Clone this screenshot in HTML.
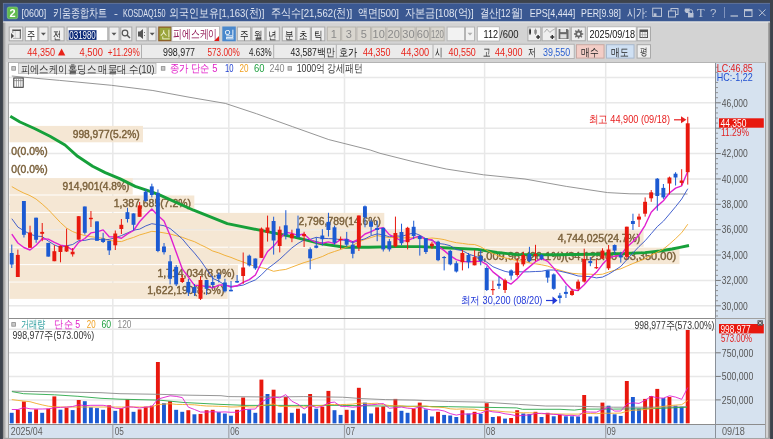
<!DOCTYPE html><html><head><meta charset="utf-8"><style>html,body{margin:0;padding:0;width:773px;height:439px;overflow:hidden;background:#d5d5d5}svg{display:block;will-change:transform;font-family:"Liberation Sans",sans-serif}</style></head><body><svg width="773" height="439" viewBox="0 0 773 439"><rect x="0" y="0" width="773" height="439" fill="#3d434c" />
<rect x="3" y="3" width="767" height="436" fill="#d3d3d3" />
<defs><linearGradient id="lg" x1="0" x2="1" y1="0" y2="0"><stop offset="0" stop-color="#8a8a8a"/><stop offset="1" stop-color="#d3d3d3"/></linearGradient></defs>
<rect x="2.9" y="22" width="3.2" height="417" fill="url(#lg)" />
<rect x="6" y="62" width="2.2" height="376" fill="#dcdcdc" />
<rect x="768.3" y="22" width="1.8" height="417" fill="#8e8e8e" />
<rect x="3" y="437.8" width="767" height="1.2" fill="#a4a4a4" />
<rect x="3" y="3" width="767" height="18.5" fill="#3a5892" />
<line x1="3" y1="3.4" x2="770" y2="3.4" stroke="#6a7a9a" stroke-width="0.8" />
<line x1="3.4" y1="3" x2="3.4" y2="22" stroke="#6a7a9a" stroke-width="0.8" />
<line x1="3" y1="22" x2="770" y2="22" stroke="#e8e8e8" stroke-width="1" />
<rect x="7.3" y="7" width="10.4" height="11.8" rx="1.8" fill="#62bb4e" stroke="#8fd67c" stroke-width="0.6"/>
<text x="12.5" y="16.6" font-size="11" fill="#fff" text-anchor="middle" font-weight="bold" >2</text>
<text x="21.6" y="17" font-size="11.5" fill="#dfe5f1" text-anchor="start" font-weight="normal" textLength="24.6" lengthAdjust="spacingAndGlyphs" >[0600]</text>
<text x="53" y="17" font-size="11.5" fill="#dfe5f1" text-anchor="start" font-weight="normal" textLength="54.3" lengthAdjust="spacingAndGlyphs" >키움종합차트</text>
<text x="114.1" y="17" font-size="11.5" fill="#dfe5f1" text-anchor="start" font-weight="normal" textLength="3.9" lengthAdjust="spacingAndGlyphs" >-</text>
<text x="122.9" y="17" font-size="11.5" fill="#dfe5f1" text-anchor="start" font-weight="normal" textLength="42.6" lengthAdjust="spacingAndGlyphs" >KOSDAQ150</text>
<text x="169.2" y="17" font-size="11.5" fill="#dfe5f1" text-anchor="start" font-weight="normal" textLength="95.1" lengthAdjust="spacingAndGlyphs" >외국인보유[1,163(천)]</text>
<text x="270.8" y="17" font-size="11.5" fill="#dfe5f1" text-anchor="start" font-weight="normal" textLength="81.5" lengthAdjust="spacingAndGlyphs" >주식수[21,562(천)]</text>
<text x="358.2" y="17" font-size="11.5" fill="#dfe5f1" text-anchor="start" font-weight="normal" textLength="40.7" lengthAdjust="spacingAndGlyphs" >액면[500]</text>
<text x="404.9" y="17" font-size="11.5" fill="#dfe5f1" text-anchor="start" font-weight="normal" textLength="68.8" lengthAdjust="spacingAndGlyphs" >자본금[108(억)]</text>
<text x="479.6" y="17" font-size="11.5" fill="#dfe5f1" text-anchor="start" font-weight="normal" textLength="42.7" lengthAdjust="spacingAndGlyphs" >결산[12월]</text>
<text x="529.7" y="17" font-size="11.5" fill="#dfe5f1" text-anchor="start" font-weight="normal" textLength="45.6" lengthAdjust="spacingAndGlyphs" >EPS[4,444]</text>
<text x="581.1" y="17" font-size="11.5" fill="#dfe5f1" text-anchor="start" font-weight="normal" textLength="39.8" lengthAdjust="spacingAndGlyphs" >PER[9.98]</text>
<text x="626.7" y="17" font-size="11.5" fill="#dfe5f1" text-anchor="start" font-weight="normal" textLength="20.4" lengthAdjust="spacingAndGlyphs" >시가:</text>
<g fill="none" stroke="#b9c2d4" stroke-width="1"><rect x="652.7" y="8.2" width="8.8" height="8.2"/><rect x="653.7" y="13.3" width="2.8" height="2.8" fill="#b9c2d4" stroke="none"/><rect x="671" y="8.5" width="7" height="6"/><rect x="668.5" y="11" width="7" height="6" fill="#3a5892"/><line x1="724.5" y1="7" x2="724.5" y2="18" stroke="#7f93bd"/><line x1="730.5" y1="16" x2="738" y2="16" stroke-width="1.3"/><rect x="744.5" y="9.5" width="7.5" height="7"/><line x1="744.5" y1="10.5" x2="752" y2="10.5" stroke-width="1.5"/><path d="M759 9.5 L765.5 16 M765.5 9.5 L759 16"/></g>
<path d="M685 8.5 L690 8.5 L688.5 12 L691 13 L686 13 L684.5 11 Z" fill="#b9c2d4"/><rect x="688" y="13" width="5.5" height="4.5" fill="#b9c2d4"/><path d="M689 13 v-1.5 a1.8 1.8 0 0 1 3.6 0 v1.5" fill="none" stroke="#b9c2d4"/>
<text x="700.9" y="16.6" font-size="12.5" fill="#b9c2d4" text-anchor="middle" font-weight="normal" font-family="Liberation Serif">T</text>
<text x="713.2" y="17" font-size="11.5" fill="#b9c2d4" text-anchor="middle" font-weight="normal" >?</text>
<rect x="9.2" y="27.0" width="13.600000000000001" height="13.799999999999997" fill="#efefef" stroke="#a9a9a9" stroke-width="1" />
<g><rect x="12.4" y="29.5" width="8.4" height="1.5" fill="#505050"/><line x1="20.3" y1="29.5" x2="20.3" y2="38.8" stroke="#555"/><line x1="13" y1="38.4" x2="20.8" y2="38.4" stroke="#999" stroke-width="0.8"/><line x1="12.8" y1="29.5" x2="12.8" y2="33" stroke="#777" stroke-width="0.8"/><line x1="15.3" y1="31" x2="15.3" y2="38" stroke="#ccc" stroke-width="0.8"/><path d="M11.1 32.9 L14 35.9 L11.1 38.8 Z" fill="#444"/></g>
<rect x="25.3" y="27.0" width="12.400000000000002" height="13.799999999999997" fill="#fbfbfb" stroke="#a9a9a9" stroke-width="1" />
<text x="31.5" y="38.6" font-size="11" fill="#1a1a1a" text-anchor="middle" font-weight="normal" textLength="8.2" lengthAdjust="spacingAndGlyphs" >주</text>
<rect x="38.8" y="27.0" width="9.200000000000003" height="13.799999999999997" fill="#efefef" stroke="#a9a9a9" stroke-width="1" />
<path d="M40.9 32.7 L45.9 32.7 L43.4 35.5 Z" fill="#555"/>
<rect x="51.0" y="27.0" width="13.099999999999994" height="13.799999999999997" fill="#efefef" stroke="#a9a9a9" stroke-width="1" />
<text x="57.5" y="38.6" font-size="11" fill="#1a1a1a" text-anchor="middle" font-weight="normal" textLength="8.2" lengthAdjust="spacingAndGlyphs" >전</text>
<rect x="67.1" y="27.0" width="40.7" height="13.799999999999997" fill="#ffffff" stroke="#a9a9a9" stroke-width="1" />
<rect x="68.7" y="30.2" width="27.8" height="9.7" fill="#0c2a78" />
<text x="69.3" y="38.9" font-size="11" fill="#fff" text-anchor="start" font-weight="normal" textLength="26.5" lengthAdjust="spacingAndGlyphs" >031980</text>
<rect x="109.0" y="27.0" width="10.099999999999994" height="13.799999999999997" fill="#efefef" stroke="#a9a9a9" stroke-width="1" />
<path d="M111.5 32.7 L116.5 32.7 L114 35.5 Z" fill="#555"/>
<rect x="120.8" y="27.0" width="11.000000000000014" height="13.799999999999997" fill="#efefef" stroke="#a9a9a9" stroke-width="1" />
<circle cx="125" cy="33" r="2.8" fill="none" stroke="#555" stroke-width="1.2"/><line x1="127" y1="35" x2="130" y2="38" stroke="#555" stroke-width="1.5"/>
<rect x="136.3" y="27.0" width="10.799999999999983" height="13.799999999999997" fill="#efefef" stroke="#a9a9a9" stroke-width="1" />
<path d="M138 31.5 h2 l3 -2.5 v10 l-3 -2.5 h-2 z" fill="#555"/><path d="M144.5 32 v1 M144.5 35 v1" stroke="#777"/>
<rect x="148.3" y="27.0" width="7.699999999999989" height="13.799999999999997" fill="#efefef" stroke="#a9a9a9" stroke-width="1" />
<path d="M149.7 32.7 L154.7 32.7 L152.2 35.5 Z" fill="#555"/>
<rect x="158.2" y="26.5" width="13.6" height="14.8" fill="#8c5a26" />
<rect x="159.4" y="27.7" width="11.2" height="12.4" fill="#9aa53c" />
<text x="165" y="38.2" font-size="10.5" fill="#f4f4d8" text-anchor="middle" font-weight="normal" >신</text>
<rect x="171.8" y="26.5" width="47.6" height="14.8" fill="#ffffff" stroke="#b0b0b0" stroke-width="0.8" />
<text x="173.3" y="38.4" font-size="11.5" fill="#8e1252" text-anchor="start" font-weight="normal" textLength="44" lengthAdjust="spacingAndGlyphs" >피에스케이</text>
<path d="M219 36 L219 41 L214 41 Z" fill="#e01818"/>
<rect x="222.3" y="26.5" width="13.5" height="14.8" fill="#4a88cc" />
<text x="229" y="38.3" font-size="11" fill="#fff" text-anchor="middle" font-weight="normal" >일</text>
<rect x="237.3" y="27.0" width="13.399999999999977" height="13.799999999999997" fill="#efefef" stroke="#a9a9a9" stroke-width="1" />
<text x="244.0" y="38.6" font-size="11" fill="#1a1a1a" text-anchor="middle" font-weight="normal" textLength="8.6" lengthAdjust="spacingAndGlyphs" >주</text>
<rect x="251.9" y="27.0" width="12.999999999999972" height="13.799999999999997" fill="#efefef" stroke="#a9a9a9" stroke-width="1" />
<text x="258.4" y="38.6" font-size="11" fill="#1a1a1a" text-anchor="middle" font-weight="normal" textLength="8.6" lengthAdjust="spacingAndGlyphs" >월</text>
<rect x="266.1" y="27.0" width="13.199999999999989" height="13.799999999999997" fill="#efefef" stroke="#a9a9a9" stroke-width="1" />
<text x="272.70000000000005" y="38.6" font-size="11" fill="#1a1a1a" text-anchor="middle" font-weight="normal" textLength="8.6" lengthAdjust="spacingAndGlyphs" >년</text>
<rect x="282.3" y="27.0" width="13.399999999999977" height="13.799999999999997" fill="#efefef" stroke="#a9a9a9" stroke-width="1" />
<text x="289.0" y="38.6" font-size="11" fill="#1a1a1a" text-anchor="middle" font-weight="normal" textLength="8.6" lengthAdjust="spacingAndGlyphs" >분</text>
<rect x="296.9" y="27.0" width="13.400000000000034" height="13.799999999999997" fill="#efefef" stroke="#a9a9a9" stroke-width="1" />
<text x="303.6" y="38.6" font-size="11" fill="#1a1a1a" text-anchor="middle" font-weight="normal" textLength="8.6" lengthAdjust="spacingAndGlyphs" >초</text>
<rect x="311.5" y="27.0" width="13.300000000000011" height="13.799999999999997" fill="#efefef" stroke="#a9a9a9" stroke-width="1" />
<text x="318.15" y="38.6" font-size="11" fill="#1a1a1a" text-anchor="middle" font-weight="normal" textLength="8.6" lengthAdjust="spacingAndGlyphs" >틱</text>
<rect x="327.3" y="27.0" width="13.199999999999989" height="13.799999999999997" fill="#d9d6cf" stroke="#b8b5ae" stroke-width="1" />
<text x="333.9" y="38.2" font-size="11" fill="#8a8a8a" text-anchor="middle" font-weight="normal" >1</text>
<rect x="341.7" y="27.0" width="14.0" height="13.799999999999997" fill="#d9d6cf" stroke="#b8b5ae" stroke-width="1" />
<text x="348.7" y="38.2" font-size="11" fill="#8a8a8a" text-anchor="middle" font-weight="normal" >3</text>
<rect x="356.9" y="27.0" width="13.600000000000023" height="13.799999999999997" fill="#d9d6cf" stroke="#b8b5ae" stroke-width="1" />
<text x="363.7" y="38.2" font-size="11" fill="#8a8a8a" text-anchor="middle" font-weight="normal" >5</text>
<rect x="371.7" y="27.0" width="14.0" height="13.799999999999997" fill="#d9d6cf" stroke="#b8b5ae" stroke-width="1" />
<text x="378.7" y="38.2" font-size="11" fill="#8a8a8a" text-anchor="middle" font-weight="normal" >10</text>
<rect x="386.9" y="27.0" width="13.600000000000023" height="13.799999999999997" fill="#d9d6cf" stroke="#b8b5ae" stroke-width="1" />
<text x="393.7" y="38.2" font-size="11" fill="#8a8a8a" text-anchor="middle" font-weight="normal" >20</text>
<rect x="401.7" y="27.0" width="13.400000000000034" height="13.799999999999997" fill="#d9d6cf" stroke="#b8b5ae" stroke-width="1" />
<text x="408.4" y="38.2" font-size="11" fill="#8a8a8a" text-anchor="middle" font-weight="normal" >30</text>
<rect x="416.3" y="27.0" width="13.199999999999989" height="13.799999999999997" fill="#d9d6cf" stroke="#b8b5ae" stroke-width="1" />
<text x="422.9" y="38.2" font-size="11" fill="#8a8a8a" text-anchor="middle" font-weight="normal" >60</text>
<rect x="430.7" y="27.0" width="13.400000000000034" height="13.799999999999997" fill="#d9d6cf" stroke="#b8b5ae" stroke-width="1" />
<text x="437.4" y="38.2" font-size="11" fill="#8a8a8a" text-anchor="middle" font-weight="normal" textLength="13" lengthAdjust="spacingAndGlyphs" >120</text>
<rect x="447.1" y="27.0" width="17.399999999999977" height="13.799999999999997" fill="#f2f2f2" stroke="#b5b5b5" stroke-width="1" />
<rect x="465.5" y="27.0" width="9" height="13.799999999999997" fill="#f2f2f2" stroke="#b5b5b5" stroke-width="1" />
<path d="M467.5 32.7 L472.5 32.7 L470 35.5 Z" fill="#b0b0b0"/>
<rect x="477.3" y="26.8" width="22" height="14.2" fill="#fff" stroke="#b0b0b0" stroke-width="0.8" />
<text x="498" y="38.3" font-size="11.5" fill="#111" text-anchor="end" font-weight="normal" textLength="14.5" lengthAdjust="spacingAndGlyphs" >112</text>
<text x="500" y="38.3" font-size="11.5" fill="#222" text-anchor="start" font-weight="normal" textLength="18.5" lengthAdjust="spacingAndGlyphs" >/600</text>
<rect x="527.9" y="27.0" width="12.899999999999977" height="13.799999999999997" fill="#efefef" stroke="#a9a9a9" stroke-width="1" />
<rect x="542.1" y="27.0" width="13.199999999999932" height="13.799999999999997" fill="#efefef" stroke="#a9a9a9" stroke-width="1" />
<rect x="556.6" y="27.0" width="13.399999999999977" height="13.799999999999997" fill="#efefef" stroke="#a9a9a9" stroke-width="1" />
<rect x="571.3" y="27.0" width="14.0" height="13.799999999999997" fill="#efefef" stroke="#a9a9a9" stroke-width="1" />
<g><line x1="530" y1="28.4" x2="530" y2="35" stroke="#333" stroke-width="0.8"/><rect x="529.2" y="29.5" width="1.8" height="4.2" fill="#333"/><line x1="535.5" y1="28.6" x2="535.5" y2="35" stroke="#888" stroke-width="0.8"/><rect x="534.3" y="29.8" width="2.5" height="3.9" fill="#888"/><path d="M536.2 37 h3.8 M538.1 35.1 v3.8" stroke="#333" stroke-width="1.4"/><path d="M544.3 32.4 L546.9 29.1 L549.8 32.4 L552.3 30.3 L554.8 29" fill="none" stroke="#999" stroke-width="0.8"/><path d="M550.3 37 h4 M552.3 35 v4" stroke="#333" stroke-width="1.4"/><path d="M558.6 28.9 h8.8 l1.2 1.2 v8.8 h-10 z" fill="#6a6a6a"/><rect x="560.4" y="28.9" width="5.6" height="3.2" fill="#e8e8e8"/><rect x="560.3" y="34.2" width="6.2" height="4.2" fill="#e0e0e0"/><path d="M581.92 33.16 L583.24 33.15 L583.24 34.65 L581.92 34.64 L581.47 35.72 L582.41 36.65 L581.35 37.71 L580.42 36.77 L579.34 37.22 L579.35 38.54 L577.85 38.54 L577.86 37.22 L576.78 36.77 L575.85 37.71 L574.79 36.65 L575.73 35.72 L575.28 34.64 L573.96 34.65 L573.96 33.15 L575.28 33.16 L575.73 32.08 L574.79 31.15 L575.85 30.09 L576.78 31.03 L577.86 30.58 L577.85 29.26 L579.35 29.26 L579.34 30.58 L580.42 31.03 L581.35 30.09 L582.41 31.15 L581.47 32.08 Z" fill="#6a6a6a"/><circle cx="578.6" cy="33.9" r="1.5" fill="#efefef"/></g>
<rect x="587.6" y="26.8" width="48.6" height="14.2" fill="#fff" stroke="#b0b0b0" stroke-width="0.8" />
<text x="589.5" y="38.4" font-size="11.5" fill="#111" text-anchor="start" font-weight="normal" textLength="45.5" lengthAdjust="spacingAndGlyphs" >2025/09/18</text>
<rect x="637.1" y="27.0" width="13.399999999999977" height="13.799999999999997" fill="#efefef" stroke="#a9a9a9" stroke-width="1" />
<rect x="640" y="30" width="7.5" height="7.5" fill="none" stroke="#555"/><rect x="640" y="30" width="7.5" height="2" fill="#555"/><path d="M642.5 32 v5.5 M645 32 v5.5 M640 34.7 h7.5" stroke="#999" stroke-width="0.6"/>
<rect x="8.7" y="44.2" width="565.5" height="14.4" fill="#ebebeb" stroke="#a8a8a8" stroke-width="0.8" />
<line x1="141.5" y1="44.6" x2="141.5" y2="58.2" stroke="#b0b0b0" stroke-width="1" />
<line x1="273.7" y1="44.6" x2="273.7" y2="58.2" stroke="#b0b0b0" stroke-width="1" />
<line x1="336.3" y1="44.6" x2="336.3" y2="58.2" stroke="#b0b0b0" stroke-width="1" />
<line x1="433" y1="44.6" x2="433" y2="58.2" stroke="#b0b0b0" stroke-width="1" />
<text x="27.3" y="55.7" font-size="10.5" fill="#e8231a" text-anchor="start" font-weight="normal" textLength="27.8" lengthAdjust="spacingAndGlyphs" >44,350</text>
<path d="M57.9 55.6 L61.6 48.4 L65.3 55.6 Z" fill="#e8231a"/>
<text x="79.6" y="55.7" font-size="10.5" fill="#e8231a" text-anchor="start" font-weight="normal" textLength="23.3" lengthAdjust="spacingAndGlyphs" >4,500</text>
<text x="107.7" y="55.7" font-size="10.5" fill="#e8231a" text-anchor="start" font-weight="normal" textLength="32" lengthAdjust="spacingAndGlyphs" >+11.29%</text>
<text x="163" y="55.7" font-size="10.5" fill="#222" text-anchor="start" font-weight="normal" textLength="32" lengthAdjust="spacingAndGlyphs" >998,977</text>
<text x="207.5" y="55.7" font-size="10.5" fill="#e8231a" text-anchor="start" font-weight="normal" textLength="32.3" lengthAdjust="spacingAndGlyphs" >573.00%</text>
<text x="249" y="55.7" font-size="10.5" fill="#222" text-anchor="start" font-weight="normal" textLength="22.7" lengthAdjust="spacingAndGlyphs" >4.63%</text>
<text x="290.5" y="55.7" font-size="10.5" fill="#222" text-anchor="start" font-weight="normal" textLength="44.3" lengthAdjust="spacingAndGlyphs" >43,587백만</text>
<text x="338.7" y="55.7" font-size="10.5" fill="#111" text-anchor="start" font-weight="normal" textLength="18.5" lengthAdjust="spacingAndGlyphs" >호가</text>
<text x="363" y="55.7" font-size="10.5" fill="#e8231a" text-anchor="start" font-weight="normal" textLength="27.4" lengthAdjust="spacingAndGlyphs" >44,350</text>
<text x="401" y="55.7" font-size="10.5" fill="#e8231a" text-anchor="start" font-weight="normal" textLength="28.2" lengthAdjust="spacingAndGlyphs" >44,300</text>
<text x="435" y="55.7" font-size="10.5" fill="#111" text-anchor="start" font-weight="normal" textLength="7.5" lengthAdjust="spacingAndGlyphs" >시</text>
<text x="448.6" y="55.7" font-size="10.5" fill="#e8231a" text-anchor="start" font-weight="normal" textLength="27.2" lengthAdjust="spacingAndGlyphs" >40,550</text>
<text x="482.6" y="55.7" font-size="10.5" fill="#111" text-anchor="start" font-weight="normal" textLength="7.5" lengthAdjust="spacingAndGlyphs" >고</text>
<text x="495" y="55.7" font-size="10.5" fill="#e8231a" text-anchor="start" font-weight="normal" textLength="27.6" lengthAdjust="spacingAndGlyphs" >44,900</text>
<text x="528.4" y="55.7" font-size="10.5" fill="#111" text-anchor="start" font-weight="normal" textLength="7.8" lengthAdjust="spacingAndGlyphs" >저</text>
<text x="543" y="55.7" font-size="10.5" fill="#2a5fd0" text-anchor="start" font-weight="normal" textLength="27.2" lengthAdjust="spacingAndGlyphs" >39,550</text>
<rect x="576.5" y="44.7" width="27.5" height="13.399999999999999" fill="#f3cdc6" stroke="#c8a8a2" stroke-width="1" />
<text x="590.2" y="55.5" font-size="11" fill="#222" text-anchor="middle" font-weight="normal" textLength="17.5" lengthAdjust="spacingAndGlyphs" >매수</text>
<rect x="606.5" y="44.7" width="27.5" height="13.399999999999999" fill="#cfe0f3" stroke="#a8b8cc" stroke-width="1" />
<text x="620.2" y="55.5" font-size="11" fill="#222" text-anchor="middle" font-weight="normal" textLength="17.5" lengthAdjust="spacingAndGlyphs" >매도</text>
<rect x="637.1" y="44.7" width="13.399999999999977" height="13.399999999999999" fill="#efefef" stroke="#a9a9a9" stroke-width="1" />
<text x="643.8" y="55.3" font-size="10" fill="#222" text-anchor="middle" font-weight="normal" textLength="7.5" lengthAdjust="spacingAndGlyphs" >평</text>
<rect x="8.5" y="62" width="707.0" height="256.5" fill="#ffffff" />
<rect x="715.5" y="62" width="50" height="362" fill="#d6e2ef" />
<rect x="8.5" y="424" width="756.5" height="14" fill="#d6e2ef" />
<rect x="8.5" y="318.5" width="707.0" height="105.5" fill="#ffffff" />
<line x1="9" y1="305.808" x2="715.5" y2="305.808" stroke="#e8e8e8" stroke-width="1.5" />
<line x1="9" y1="280.432" x2="715.5" y2="280.432" stroke="#e8e8e8" stroke-width="1.5" />
<line x1="9" y1="255.05599999999998" x2="715.5" y2="255.05599999999998" stroke="#e8e8e8" stroke-width="1.5" />
<line x1="9" y1="229.68" x2="715.5" y2="229.68" stroke="#e8e8e8" stroke-width="1.5" />
<line x1="9" y1="204.30399999999997" x2="715.5" y2="204.30399999999997" stroke="#e8e8e8" stroke-width="1.5" />
<line x1="9" y1="178.928" x2="715.5" y2="178.928" stroke="#e8e8e8" stroke-width="1.5" />
<line x1="9" y1="153.552" x2="715.5" y2="153.552" stroke="#e8e8e8" stroke-width="1.5" />
<line x1="9" y1="128.176" x2="715.5" y2="128.176" stroke="#e8e8e8" stroke-width="1.5" />
<line x1="9" y1="102.8" x2="715.5" y2="102.8" stroke="#e8e8e8" stroke-width="1.5" />
<line x1="9" y1="77.424" x2="715.5" y2="77.424" stroke="#e8e8e8" stroke-width="1.5" />
<line x1="112.8" y1="62" x2="112.8" y2="424" stroke="#e8e8e8" stroke-width="1.5" />
<line x1="228.8" y1="62" x2="228.8" y2="424" stroke="#e8e8e8" stroke-width="1.5" />
<line x1="344.5" y1="62" x2="344.5" y2="424" stroke="#e8e8e8" stroke-width="1.5" />
<line x1="484.6" y1="62" x2="484.6" y2="424" stroke="#e8e8e8" stroke-width="1.5" />
<line x1="605.7" y1="62" x2="605.7" y2="424" stroke="#e8e8e8" stroke-width="1.5" />
<rect x="9.5" y="125.9" width="133.484" height="16.4" fill="#f5e7d4" />
<rect x="9.5" y="178.1" width="123.21600000000001" height="16.4" fill="#f5e7d4" />
<rect x="9.5" y="195.5" width="184.824" height="16.4" fill="#f5e7d4" />
<rect x="9.5" y="212.9" width="374.78200000000004" height="16.4" fill="#f5e7d4" />
<rect x="9.5" y="230.3" width="634.049" height="16.4" fill="#f5e7d4" />
<rect x="9.5" y="247.7" width="669.9870000000001" height="16.4" fill="#f5e7d4" />
<rect x="9.5" y="265.1" width="228.46300000000002" height="16.4" fill="#f5e7d4" />
<rect x="9.5" y="282.5" width="218.19500000000002" height="16.4" fill="#f5e7d4" />
<line x1="9" y1="329.2" x2="715.5" y2="329.2" stroke="#e8e8e8" stroke-width="1.5" />
<line x1="9" y1="352.8" x2="715.5" y2="352.8" stroke="#e8e8e8" stroke-width="1.5" />
<line x1="9" y1="376.4" x2="715.5" y2="376.4" stroke="#e8e8e8" stroke-width="1.5" />
<line x1="9" y1="399.9" x2="715.5" y2="399.9" stroke="#e8e8e8" stroke-width="1.5" />
<text x="139.684" y="137.8" font-size="10.5" fill="#7a603a" text-anchor="end" font-weight="normal" textLength="66.95" lengthAdjust="spacingAndGlyphs" stroke="#7a603a" stroke-width="0.4">998,977(5.2%)</text>
<text x="11.3" y="155.20000000000002" font-size="10.5" fill="#7a603a" text-anchor="start" font-weight="normal" textLength="36.4" lengthAdjust="spacingAndGlyphs" stroke="#7a603a" stroke-width="0.4">0(0.0%)</text>
<text x="11.3" y="172.6" font-size="10.5" fill="#7a603a" text-anchor="start" font-weight="normal" textLength="36.4" lengthAdjust="spacingAndGlyphs" stroke="#7a603a" stroke-width="0.4">0(0.0%)</text>
<text x="129.416" y="190.0" font-size="10.5" fill="#7a603a" text-anchor="end" font-weight="normal" textLength="66.95" lengthAdjust="spacingAndGlyphs" stroke="#7a603a" stroke-width="0.4">914,901(4.8%)</text>
<text x="191.024" y="207.4" font-size="10.5" fill="#7a603a" text-anchor="end" font-weight="normal" textLength="77.25" lengthAdjust="spacingAndGlyphs" stroke="#7a603a" stroke-width="0.4">1,387,685(7.2%)</text>
<text x="380.982" y="224.8" font-size="10.5" fill="#7a603a" text-anchor="end" font-weight="normal" textLength="82.4" lengthAdjust="spacingAndGlyphs" stroke="#7a603a" stroke-width="0.4">2,796,789(14.6%)</text>
<text x="640.249" y="242.20000000000002" font-size="10.5" fill="#7a603a" text-anchor="end" font-weight="normal" textLength="82.4" lengthAdjust="spacingAndGlyphs" stroke="#7a603a" stroke-width="0.4">4,744,025(24.7%)</text>
<text x="676.1870000000001" y="259.59999999999997" font-size="10.5" fill="#7a603a" text-anchor="end" font-weight="normal" textLength="199" lengthAdjust="spacingAndGlyphs" stroke="#7a603a" stroke-width="0.4">5,009,961(26.1%)(34,125.00~33,350.00)</text>
<text x="234.663" y="277.0" font-size="10.5" fill="#7a603a" text-anchor="end" font-weight="normal" textLength="77.25" lengthAdjust="spacingAndGlyphs" stroke="#7a603a" stroke-width="0.4">1,714,034(8.9%)</text>
<text x="224.395" y="294.4" font-size="10.5" fill="#7a603a" text-anchor="end" font-weight="normal" textLength="77.25" lengthAdjust="spacingAndGlyphs" stroke="#7a603a" stroke-width="0.4">1,622,190(8.5%)</text>
<polyline points="11.8,76.0 25.0,77.3 59.7,80.4 111.5,85.3 152.9,90.5 189.0,97.2 225.3,103.4 256.4,113.7 292.6,126.7 328.8,139.6 370.2,150.0 380.0,153.3 413.0,161.6 446.2,169.0 483.5,174.8 524.9,179.0 566.3,186.4 607.6,192.6 630.0,193.8 660.0,194.0 687.5,194.0" fill="none" stroke="#8a8a8a" stroke-width="0.9" stroke-linejoin="round" />
<polyline points="10.3,116.3 20.0,122.0 35.0,128.8 50.0,136.3 65.0,145.0 77.6,156.3 92.6,166.3 105.2,172.6 120.2,178.9 135.2,186.4 150.2,191.4 160.0,195.1 193.6,210.2 227.3,223.7 260.9,230.4 294.5,237.1 321.5,243.9 345.0,247.2 368.5,247.2 395.5,246.6 420.0,246.6 438.8,247.5 477.6,249.4 497.0,252.5 516.4,254.5 555.2,254.8 594.0,254.2 625.0,253.5 645.0,252.6 660.0,251.0 672.0,249.0 680.0,247.3 689.0,245.5" fill="none" stroke="#16a03a" stroke-width="2.9" stroke-linejoin="round" />
<polyline points="11.8,186.6 17.9,190.1 23.9,193.1 30.0,195.6 36.1,199.1 42.2,204.1 48.3,209.6 54.4,216.1 60.5,222.6 66.6,228.1 72.7,231.6 78.8,233.9 84.8,235.6 90.9,236.6 97.0,237.6 103.1,238.3 109.2,240.3 115.3,241.3 121.4,241.6 127.5,239.3 133.6,237.4 139.7,234.9 145.8,233.2 151.8,231.3 157.9,231.9 164.0,232.9 170.1,234.0 176.2,235.7 182.3,237.3 188.4,239.6 194.5,241.7 200.6,244.8 206.7,247.7 212.7,251.0 218.8,252.9 224.9,255.4 231.0,257.4 237.1,259.9 243.2,262.0 249.3,264.3 255.4,266.5 261.5,267.7 267.6,269.0 273.6,271.3 279.7,270.2 285.8,269.4 291.9,267.1 298.0,264.8 304.1,262.6 310.2,260.8 316.3,258.6 322.4,256.5 328.4,253.6 334.5,251.5 340.6,249.5 346.7,247.2 352.8,245.3 358.9,241.9 365.0,239.4 371.1,237.5 377.2,235.6 383.3,236.6 389.3,237.7 395.4,237.3 401.5,238.0 407.6,237.7 413.7,237.8 419.8,237.8 425.9,238.7 432.0,238.0 438.1,238.6 444.2,239.6 450.2,241.3 456.3,242.7 462.4,243.4 468.5,244.3 474.6,244.5 480.7,246.8 486.8,250.4 492.9,253.5 499.0,256.3 505.1,257.8 511.1,259.2 517.2,260.6 523.3,261.2 529.4,262.9 535.5,263.8 541.6,264.8 547.7,266.1 553.8,268.3 559.9,270.2 566.0,272.0 572.0,273.3 578.1,273.8 584.2,274.1 590.3,274.2 596.4,274.7 602.5,274.2 608.6,272.1 614.7,270.2 620.8,268.8 626.9,266.1 632.9,263.5 639.0,261.2 645.1,258.6 651.2,255.1 657.3,252.2 663.4,249.1 669.5,244.1 675.6,238.6 681.7,232.7 687.8,224.2" fill="none" stroke="#f0aa2a" stroke-width="0.9" stroke-linejoin="round" />
<polyline points="11.8,218.7 17.9,227.1 23.9,230.7 30.0,234.2 36.1,236.1 42.2,236.5 48.3,241.1 54.4,244.9 60.5,247.5 66.6,245.8 72.7,244.5 78.8,240.6 84.8,240.4 90.9,239.0 97.0,239.1 103.1,240.1 109.2,239.4 115.3,237.7 121.4,235.6 127.5,232.9 133.6,230.2 139.7,229.1 145.8,225.9 151.8,223.7 157.9,224.7 164.0,225.7 170.1,228.5 176.2,233.6 182.3,238.9 188.4,246.3 194.5,253.1 200.6,260.6 206.7,269.4 212.7,278.4 218.8,281.1 224.9,285.1 231.0,286.3 237.1,286.1 243.2,285.1 249.3,282.4 255.4,279.9 261.5,274.8 267.6,268.6 273.6,264.2 279.7,259.3 285.8,253.6 291.9,247.9 298.0,243.4 304.1,240.0 310.2,239.3 316.3,237.3 322.4,238.3 328.4,238.6 334.5,238.8 340.6,239.7 346.7,240.7 352.8,242.7 358.9,240.5 365.0,238.8 371.1,235.7 377.2,233.9 383.3,234.9 389.3,236.8 395.4,235.9 401.5,236.3 407.6,234.6 413.7,232.8 419.8,235.2 425.9,238.7 432.0,240.4 438.1,243.4 444.2,244.2 450.2,245.7 456.3,249.6 462.4,250.6 468.5,254.0 474.6,256.1 480.7,258.3 486.8,262.1 492.9,266.7 499.0,269.2 505.1,271.4 511.1,272.6 517.2,271.7 523.3,271.9 529.4,271.8 535.5,271.5 541.6,271.3 547.7,270.0 553.8,270.0 559.9,271.2 566.0,272.6 572.0,274.1 578.1,276.0 584.2,276.4 590.3,276.6 596.4,277.9 602.5,277.1 608.6,274.2 614.7,270.4 620.8,266.4 626.9,259.6 632.9,253.0 639.0,246.5 645.1,240.8 651.2,233.7 657.3,226.6 663.4,221.2 669.5,214.0 675.6,206.7 681.7,199.0 687.8,188.7" fill="none" stroke="#3050c8" stroke-width="0.9" stroke-linejoin="round" />
<polyline points="11.8,234.2 17.9,243.0 23.9,247.5 30.0,250.0 36.1,245.3 42.2,238.8 48.3,239.1 54.4,242.4 60.5,245.1 66.6,246.3 72.7,250.2 78.8,242.1 84.8,238.5 90.9,232.9 97.0,231.9 103.1,229.9 109.2,236.8 115.3,236.9 121.4,238.3 127.5,233.9 133.6,230.5 139.7,221.5 145.8,215.0 151.8,209.0 157.9,215.4 164.0,220.9 170.1,235.6 176.2,252.3 182.3,268.9 188.4,277.2 194.5,285.3 200.6,285.6 206.7,286.5 212.7,287.9 218.8,285.1 224.9,284.8 231.0,287.0 237.1,285.8 243.2,282.3 249.3,279.6 255.4,275.0 261.5,262.5 267.6,251.5 273.6,246.1 279.7,238.9 285.8,232.3 291.9,233.4 298.0,235.3 304.1,234.0 310.2,239.7 316.3,242.3 322.4,243.3 328.4,241.9 334.5,243.6 340.6,239.7 346.7,239.1 352.8,242.0 358.9,239.1 365.0,234.0 371.1,231.6 377.2,228.7 383.3,227.8 389.3,234.6 395.4,237.7 401.5,241.0 407.6,240.6 413.7,237.9 419.8,235.8 425.9,239.6 432.0,239.7 438.1,246.2 444.2,250.6 450.2,255.7 456.3,259.6 462.4,261.4 468.5,261.8 474.6,261.6 480.7,261.0 486.8,264.7 492.9,271.9 499.0,276.6 505.1,281.3 511.1,284.1 517.2,278.7 523.3,271.9 529.4,266.9 535.5,261.7 541.6,258.4 547.7,261.4 553.8,268.1 559.9,275.5 566.0,283.5 572.0,289.8 578.1,290.6 584.2,284.7 590.3,277.7 596.4,272.3 602.5,264.3 608.6,257.9 614.7,256.2 620.8,255.1 626.9,247.0 632.9,241.7 639.0,235.1 645.1,225.3 651.2,212.3 657.3,206.1 663.4,200.8 669.5,193.0 675.6,188.1 681.7,185.8 687.8,171.2" fill="none" stroke="#e020d0" stroke-width="1.4" stroke-linejoin="round" />
<rect x="11.27" y="244.6" width="1" height="23.400000000000006" fill="#1c5ad2" />
<rect x="9.77" y="253" width="3.9" height="11.5" fill="#1c5ad2" />
<rect x="17.36" y="249.6" width="1" height="27.400000000000006" fill="#e8180e" />
<rect x="15.86" y="254.9" width="3.9" height="22.099999999999994" fill="#e8180e" />
<rect x="23.45" y="201" width="1" height="36.5" fill="#1c5ad2" />
<rect x="21.95" y="201" width="3.9" height="33.80000000000001" fill="#1c5ad2" />
<rect x="29.54" y="225.7" width="1" height="22.100000000000023" fill="#e8180e" />
<rect x="28.04" y="232.5" width="3.9" height="15.300000000000011" fill="#e8180e" />
<rect x="35.629999999999995" y="217.7" width="1" height="25.100000000000023" fill="#1c5ad2" />
<rect x="34.129999999999995" y="217.7" width="3.9" height="22.100000000000023" fill="#1c5ad2" />
<rect x="41.72" y="223" width="1" height="18.19999999999999" fill="#e8180e" />
<rect x="40.22" y="231.9" width="3.9" height="1.9000000000000057" fill="#e8180e" />
<rect x="47.81" y="242.9" width="1" height="13.700000000000017" fill="#1c5ad2" />
<rect x="46.31" y="242.9" width="3.9" height="13.700000000000017" fill="#1c5ad2" />
<rect x="53.89999999999999" y="245.2" width="1" height="16.0" fill="#e8180e" />
<rect x="52.39999999999999" y="251.2" width="3.9" height="10.0" fill="#e8180e" />
<rect x="59.989999999999995" y="245.5" width="1" height="16.80000000000001" fill="#e8180e" />
<rect x="58.489999999999995" y="245.8" width="3.9" height="6.199999999999989" fill="#e8180e" />
<rect x="66.08" y="228.7" width="1" height="23.30000000000001" fill="#e8180e" />
<rect x="64.58" y="245.8" width="3.9" height="5.699999999999989" fill="#e8180e" />
<rect x="72.17" y="248" width="1" height="8.600000000000023" fill="#e8180e" />
<rect x="70.67" y="251.7" width="3.9" height="2.6000000000000227" fill="#e8180e" />
<rect x="78.25999999999999" y="216" width="1" height="23.599999999999994" fill="#e8180e" />
<rect x="76.75999999999999" y="216.2" width="3.9" height="23.400000000000006" fill="#e8180e" />
<rect x="84.35" y="206.5" width="1" height="28.099999999999994" fill="#1c5ad2" />
<rect x="82.85" y="206.5" width="3.9" height="26.30000000000001" fill="#1c5ad2" />
<rect x="90.44" y="211" width="1" height="16" fill="#e8180e" />
<rect x="88.94" y="217.8" width="3.9" height="1.3999999999999773" fill="#e8180e" />
<rect x="96.52999999999999" y="221.4" width="1" height="19.400000000000006" fill="#1c5ad2" />
<rect x="95.02999999999999" y="221.4" width="3.9" height="19.400000000000006" fill="#1c5ad2" />
<rect x="102.61999999999999" y="232.8" width="1" height="10.199999999999989" fill="#1c5ad2" />
<rect x="101.11999999999999" y="238.5" width="3.9" height="3.5" fill="#1c5ad2" />
<rect x="108.71" y="240.8" width="1" height="14.199999999999989" fill="#1c5ad2" />
<rect x="107.21" y="240.8" width="3.9" height="9.599999999999994" fill="#1c5ad2" />
<rect x="114.8" y="230.5" width="1" height="19.5" fill="#e8180e" />
<rect x="113.3" y="233.5" width="3.9" height="11.800000000000011" fill="#e8180e" />
<rect x="120.89" y="219" width="1" height="15" fill="#e8180e" />
<rect x="119.39" y="224.8" width="3.9" height="4.199999999999989" fill="#e8180e" />
<rect x="126.97999999999999" y="207.7" width="1" height="14.800000000000011" fill="#1c5ad2" />
<rect x="125.47999999999999" y="212.2" width="3.9" height="6.800000000000011" fill="#1c5ad2" />
<rect x="133.07" y="213.4" width="1" height="17.099999999999994" fill="#1c5ad2" />
<rect x="131.57" y="213.4" width="3.9" height="11.400000000000006" fill="#1c5ad2" />
<rect x="139.16" y="202" width="1" height="14.800000000000011" fill="#e8180e" />
<rect x="137.66" y="205.4" width="3.9" height="11.400000000000006" fill="#e8180e" />
<rect x="145.25" y="189" width="1" height="13" fill="#1c5ad2" />
<rect x="143.75" y="191.7" width="3.9" height="9.100000000000023" fill="#1c5ad2" />
<rect x="151.34" y="183.7" width="1" height="13.700000000000017" fill="#1c5ad2" />
<rect x="149.84" y="186.4" width="3.9" height="8.599999999999994" fill="#1c5ad2" />
<rect x="157.43" y="189.4" width="1" height="62.79999999999998" fill="#1c5ad2" />
<rect x="155.93" y="192.8" width="3.9" height="58.19999999999999" fill="#1c5ad2" />
<rect x="163.52" y="243" width="1" height="11.5" fill="#1c5ad2" />
<rect x="162.02" y="246.5" width="3.9" height="5.699999999999989" fill="#1c5ad2" />
<rect x="169.61" y="255" width="1" height="29.399999999999977" fill="#1c5ad2" />
<rect x="168.11" y="261.3" width="3.9" height="17.5" fill="#1c5ad2" />
<rect x="175.70000000000002" y="265" width="1" height="21" fill="#1c5ad2" />
<rect x="174.20000000000002" y="266.9" width="3.9" height="17.5" fill="#1c5ad2" />
<rect x="181.79" y="275" width="1" height="8" fill="#e8180e" />
<rect x="180.29" y="278" width="3.9" height="4" fill="#e8180e" />
<rect x="187.88" y="278.8" width="1" height="17.19999999999999" fill="#1c5ad2" />
<rect x="186.38" y="281.9" width="3.9" height="10.600000000000023" fill="#1c5ad2" />
<rect x="193.97" y="284" width="1" height="12" fill="#1c5ad2" />
<rect x="192.47" y="287" width="3.9" height="6" fill="#1c5ad2" />
<rect x="200.06" y="276" width="1" height="24" fill="#e8180e" />
<rect x="198.56" y="280" width="3.9" height="18.80000000000001" fill="#e8180e" />
<rect x="206.15" y="280" width="1" height="15" fill="#1c5ad2" />
<rect x="204.65" y="280" width="3.9" height="8.800000000000011" fill="#1c5ad2" />
<rect x="212.24" y="276" width="1" height="11.5" fill="#1c5ad2" />
<rect x="210.74" y="282" width="3.9" height="3" fill="#1c5ad2" />
<rect x="218.33" y="272.5" width="1" height="10.0" fill="#1c5ad2" />
<rect x="216.83" y="274.4" width="3.9" height="4.400000000000034" fill="#1c5ad2" />
<rect x="224.42000000000002" y="278.8" width="1" height="13.699999999999989" fill="#1c5ad2" />
<rect x="222.92000000000002" y="282.5" width="3.9" height="8.800000000000011" fill="#1c5ad2" />
<rect x="230.51000000000002" y="281" width="1" height="10.300000000000011" fill="#1c5ad2" />
<rect x="229.01000000000002" y="289.8" width="3.9" height="1.5" fill="#1c5ad2" />
<rect x="236.6" y="275" width="1" height="8" fill="#1c5ad2" />
<rect x="235.1" y="281" width="3.9" height="1.5" fill="#1c5ad2" />
<rect x="242.69" y="252.5" width="1" height="31.30000000000001" fill="#e8180e" />
<rect x="241.19" y="267.5" width="3.9" height="8.5" fill="#e8180e" />
<rect x="248.78" y="254.6" width="1" height="11.900000000000006" fill="#1c5ad2" />
<rect x="247.28" y="255.7" width="3.9" height="9.699999999999989" fill="#1c5ad2" />
<rect x="254.87" y="258.5" width="1" height="11.300000000000011" fill="#1c5ad2" />
<rect x="253.37" y="258.5" width="3.9" height="9.800000000000011" fill="#1c5ad2" />
<rect x="260.96" y="227.5" width="1" height="30.399999999999977" fill="#e8180e" />
<rect x="259.46" y="228.6" width="3.9" height="29.299999999999983" fill="#e8180e" />
<rect x="267.05" y="215.6" width="1" height="26.0" fill="#e8180e" />
<rect x="265.55" y="227.5" width="3.9" height="5.5" fill="#e8180e" />
<rect x="273.14" y="216.7" width="1" height="37.900000000000006" fill="#1c5ad2" />
<rect x="271.64" y="221" width="3.9" height="19.5" fill="#1c5ad2" />
<rect x="279.22999999999996" y="226.4" width="1" height="26.0" fill="#e8180e" />
<rect x="277.72999999999996" y="229.7" width="3.9" height="16.30000000000001" fill="#e8180e" />
<rect x="285.32" y="210.2" width="1" height="29.200000000000017" fill="#1c5ad2" />
<rect x="283.82" y="225.3" width="3.9" height="9.799999999999983" fill="#1c5ad2" />
<rect x="291.40999999999997" y="229.7" width="1" height="12.5" fill="#e8180e" />
<rect x="289.90999999999997" y="234" width="3.9" height="4.300000000000011" fill="#e8180e" />
<rect x="297.5" y="215.6" width="1" height="21.700000000000017" fill="#1c5ad2" />
<rect x="296.0" y="228.6" width="3.9" height="8.700000000000017" fill="#1c5ad2" />
<rect x="303.59" y="231.8" width="1" height="15.199999999999989" fill="#e8180e" />
<rect x="302.09" y="234" width="3.9" height="2.1999999999999886" fill="#e8180e" />
<rect x="309.67999999999995" y="247.4" width="1" height="21.900000000000006" fill="#1c5ad2" />
<rect x="308.17999999999995" y="249.2" width="3.9" height="9.100000000000023" fill="#1c5ad2" />
<rect x="315.77" y="237.4" width="1" height="10.900000000000006" fill="#1c5ad2" />
<rect x="314.27" y="245.6" width="3.9" height="2.200000000000017" fill="#1c5ad2" />
<rect x="321.85999999999996" y="229.2" width="1" height="16.400000000000006" fill="#1c5ad2" />
<rect x="320.35999999999996" y="235.5" width="3.9" height="3.6999999999999886" fill="#1c5ad2" />
<rect x="327.95" y="212.8" width="1" height="23.69999999999999" fill="#1c5ad2" />
<rect x="326.45" y="221.9" width="3.9" height="8.099999999999994" fill="#1c5ad2" />
<rect x="334.03999999999996" y="225.5" width="1" height="19.19999999999999" fill="#1c5ad2" />
<rect x="332.53999999999996" y="227.3" width="3.9" height="15.5" fill="#1c5ad2" />
<rect x="340.13" y="236.5" width="1" height="12.699999999999989" fill="#e8180e" />
<rect x="338.63" y="238.8" width="3.9" height="1.299999999999983" fill="#e8180e" />
<rect x="346.21999999999997" y="231.9" width="1" height="14.599999999999994" fill="#1c5ad2" />
<rect x="344.71999999999997" y="239.2" width="3.9" height="5.5" fill="#1c5ad2" />
<rect x="352.30999999999995" y="241" width="1" height="17.30000000000001" fill="#1c5ad2" />
<rect x="350.80999999999995" y="244.7" width="3.9" height="9.100000000000023" fill="#1c5ad2" />
<rect x="358.4" y="215.5" width="1" height="35.5" fill="#e8180e" />
<rect x="356.9" y="215.5" width="3.9" height="31.900000000000006" fill="#e8180e" />
<rect x="364.48999999999995" y="205.5" width="1" height="21.80000000000001" fill="#1c5ad2" />
<rect x="362.98999999999995" y="206.3" width="3.9" height="11.0" fill="#1c5ad2" />
<rect x="370.58" y="219.6" width="1" height="15.400000000000006" fill="#1c5ad2" />
<rect x="369.08" y="221.7" width="3.9" height="5.100000000000023" fill="#1c5ad2" />
<rect x="376.66999999999996" y="220.7" width="1" height="20.5" fill="#1c5ad2" />
<rect x="375.16999999999996" y="228" width="3.9" height="2" fill="#1c5ad2" />
<rect x="382.76" y="227.8" width="1" height="23.69999999999999" fill="#1c5ad2" />
<rect x="381.26" y="227.8" width="3.9" height="21.599999999999994" fill="#1c5ad2" />
<rect x="388.84999999999997" y="239" width="1" height="12.5" fill="#1c5ad2" />
<rect x="387.34999999999997" y="241.2" width="3.9" height="8.200000000000017" fill="#1c5ad2" />
<rect x="394.94" y="216.6" width="1" height="30.80000000000001" fill="#e8180e" />
<rect x="393.44" y="233" width="3.9" height="13.300000000000011" fill="#e8180e" />
<rect x="401.03" y="223.7" width="1" height="21.600000000000023" fill="#1c5ad2" />
<rect x="399.53" y="232" width="3.9" height="11.199999999999989" fill="#1c5ad2" />
<rect x="407.11999999999995" y="226.8" width="1" height="22.599999999999994" fill="#e8180e" />
<rect x="405.61999999999995" y="227.8" width="3.9" height="14.399999999999977" fill="#e8180e" />
<rect x="413.21" y="220.7" width="1" height="18.400000000000006" fill="#1c5ad2" />
<rect x="411.71" y="226.8" width="3.9" height="9.199999999999989" fill="#1c5ad2" />
<rect x="419.29999999999995" y="235" width="1" height="20.599999999999994" fill="#1c5ad2" />
<rect x="417.79999999999995" y="236" width="3.9" height="3.0999999999999943" fill="#1c5ad2" />
<rect x="425.39" y="238" width="1" height="16" fill="#1c5ad2" />
<rect x="423.89" y="238.1" width="3.9" height="13.900000000000006" fill="#1c5ad2" />
<rect x="431.47999999999996" y="241.7" width="1" height="7.200000000000017" fill="#e8180e" />
<rect x="429.97999999999996" y="243.7" width="3.9" height="2.5" fill="#e8180e" />
<rect x="437.57" y="240.7" width="1" height="20.5" fill="#1c5ad2" />
<rect x="436.07" y="241.7" width="3.9" height="18.5" fill="#1c5ad2" />
<rect x="443.65999999999997" y="256" width="1" height="14.399999999999977" fill="#1c5ad2" />
<rect x="442.15999999999997" y="257" width="3.9" height="1.1000000000000227" fill="#1c5ad2" />
<rect x="449.75" y="249.9" width="1" height="15.400000000000006" fill="#1c5ad2" />
<rect x="448.25" y="250.9" width="3.9" height="13.400000000000006" fill="#1c5ad2" />
<rect x="455.84" y="261.2" width="1" height="11.300000000000011" fill="#1c5ad2" />
<rect x="454.34" y="263.2" width="3.9" height="8.300000000000011" fill="#1c5ad2" />
<rect x="461.92999999999995" y="249.9" width="1" height="20.49999999999997" fill="#e8180e" />
<rect x="460.42999999999995" y="253" width="3.9" height="9.199999999999989" fill="#e8180e" />
<rect x="468.02" y="253" width="1" height="15.300000000000011" fill="#1c5ad2" />
<rect x="466.52" y="255" width="3.9" height="7.199999999999989" fill="#1c5ad2" />
<rect x="474.10999999999996" y="249.9" width="1" height="15.400000000000006" fill="#e8180e" />
<rect x="472.60999999999996" y="257.1" width="3.9" height="8.199999999999989" fill="#e8180e" />
<rect x="480.2" y="249.9" width="1" height="15.400000000000006" fill="#1c5ad2" />
<rect x="478.7" y="256" width="3.9" height="5.199999999999989" fill="#1c5ad2" />
<rect x="486.28999999999996" y="266.3" width="1" height="24.69999999999999" fill="#1c5ad2" />
<rect x="484.78999999999996" y="268" width="3.9" height="22" fill="#1c5ad2" />
<rect x="492.38" y="280.7" width="1" height="14.300000000000011" fill="#e8180e" />
<rect x="490.88" y="289" width="3.9" height="1.1999999999999886" fill="#e8180e" />
<rect x="498.46999999999997" y="276.6" width="1" height="12.399999999999977" fill="#1c5ad2" />
<rect x="496.96999999999997" y="283.8" width="3.9" height="2.0" fill="#1c5ad2" />
<rect x="504.55999999999995" y="278.6" width="1" height="14.399999999999977" fill="#e8180e" />
<rect x="503.05999999999995" y="280.3" width="3.9" height="9.699999999999989" fill="#e8180e" />
<rect x="510.65" y="269.4" width="1" height="10.300000000000011" fill="#1c5ad2" />
<rect x="509.15" y="270.4" width="3.9" height="5.2000000000000455" fill="#1c5ad2" />
<rect x="516.74" y="258" width="1" height="18.600000000000023" fill="#e8180e" />
<rect x="515.24" y="262.6" width="3.9" height="12.399999999999977" fill="#e8180e" />
<rect x="522.83" y="252" width="1" height="14.300000000000011" fill="#e8180e" />
<rect x="521.33" y="255" width="3.9" height="9.300000000000011" fill="#e8180e" />
<rect x="528.92" y="246.8" width="1" height="15.399999999999977" fill="#1c5ad2" />
<rect x="527.42" y="254" width="3.9" height="7.199999999999989" fill="#1c5ad2" />
<rect x="535.01" y="244.8" width="1" height="16.399999999999977" fill="#e8180e" />
<rect x="533.51" y="254" width="3.9" height="2" fill="#e8180e" />
<rect x="541.1" y="254" width="1" height="6.199999999999989" fill="#1c5ad2" />
<rect x="539.6" y="255" width="3.9" height="4.100000000000023" fill="#1c5ad2" />
<rect x="547.1899999999999" y="270.4" width="1" height="12.300000000000011" fill="#1c5ad2" />
<rect x="545.6899999999999" y="270.4" width="3.9" height="7.2000000000000455" fill="#1c5ad2" />
<rect x="553.28" y="273.4" width="1" height="16.400000000000034" fill="#1c5ad2" />
<rect x="551.78" y="274.4" width="3.9" height="14.400000000000034" fill="#1c5ad2" />
<rect x="559.37" y="292.9" width="1" height="10.400000000000034" fill="#1c5ad2" />
<rect x="557.87" y="295.5" width="3.9" height="2.5" fill="#1c5ad2" />
<rect x="565.4599999999999" y="285.7" width="1" height="12.300000000000011" fill="#1c5ad2" />
<rect x="563.9599999999999" y="291.9" width="3.9" height="2.0" fill="#1c5ad2" />
<rect x="571.55" y="288.7" width="1" height="7.100000000000023" fill="#e8180e" />
<rect x="570.05" y="290.8" width="3.9" height="4.199999999999989" fill="#e8180e" />
<rect x="577.64" y="279.5" width="1" height="11.300000000000011" fill="#e8180e" />
<rect x="576.14" y="281.6" width="3.9" height="7.199999999999989" fill="#e8180e" />
<rect x="583.73" y="248.7" width="1" height="33.900000000000034" fill="#e8180e" />
<rect x="582.23" y="259" width="3.9" height="22.600000000000023" fill="#e8180e" />
<rect x="589.8199999999999" y="257" width="1" height="9.199999999999989" fill="#1c5ad2" />
<rect x="588.3199999999999" y="261" width="3.9" height="2.1000000000000227" fill="#1c5ad2" />
<rect x="595.91" y="259.2" width="1" height="9.600000000000023" fill="#e8180e" />
<rect x="594.41" y="267.1" width="3.9" height="1.1999999999999886" fill="#e8180e" />
<rect x="602.0" y="248.3" width="1" height="10.899999999999977" fill="#e8180e" />
<rect x="600.5" y="250.6" width="3.9" height="8.000000000000028" fill="#e8180e" />
<rect x="608.0899999999999" y="245" width="1" height="25" fill="#e8180e" />
<rect x="606.5899999999999" y="249.5" width="3.9" height="18.80000000000001" fill="#e8180e" />
<rect x="614.18" y="244.4" width="1" height="9.599999999999994" fill="#1c5ad2" />
<rect x="612.68" y="245" width="3.9" height="5.599999999999994" fill="#1c5ad2" />
<rect x="620.27" y="251.8" width="1" height="10.800000000000011" fill="#1c5ad2" />
<rect x="618.77" y="255.2" width="3.9" height="2.3000000000000114" fill="#1c5ad2" />
<rect x="626.36" y="226.7" width="1" height="32.5" fill="#e8180e" />
<rect x="624.86" y="226.7" width="3.9" height="30.19999999999999" fill="#e8180e" />
<rect x="632.4499999999999" y="213.7" width="1" height="16.30000000000001" fill="#1c5ad2" />
<rect x="630.9499999999999" y="221" width="3.9" height="3" fill="#1c5ad2" />
<rect x="638.54" y="213.7" width="1" height="13.300000000000011" fill="#e8180e" />
<rect x="637.04" y="216.6" width="3.9" height="3.0" fill="#e8180e" />
<rect x="644.63" y="197.4" width="1" height="19.19999999999999" fill="#e8180e" />
<rect x="643.13" y="201.8" width="3.9" height="11.899999999999977" fill="#e8180e" />
<rect x="650.7199999999999" y="190" width="1" height="11.800000000000011" fill="#e8180e" />
<rect x="649.2199999999999" y="192.3" width="3.9" height="6.0" fill="#e8180e" />
<rect x="656.81" y="178" width="1" height="32.69999999999999" fill="#1c5ad2" />
<rect x="655.31" y="178.7" width="3.9" height="17.30000000000001" fill="#1c5ad2" />
<rect x="662.9" y="184" width="1" height="14.900000000000006" fill="#1c5ad2" />
<rect x="661.4" y="187.9" width="3.9" height="9.5" fill="#1c5ad2" />
<rect x="668.99" y="176.6" width="1" height="17.80000000000001" fill="#e8180e" />
<rect x="667.49" y="177.5" width="3.9" height="6.0" fill="#e8180e" />
<rect x="675.0799999999999" y="172.2" width="1" height="13.300000000000011" fill="#1c5ad2" />
<rect x="673.5799999999999" y="173.7" width="3.9" height="3.8000000000000114" fill="#1c5ad2" />
<rect x="681.17" y="169.2" width="1" height="16.30000000000001" fill="#e8180e" />
<rect x="679.67" y="180.5" width="3.9" height="2.4000000000000057" fill="#e8180e" />
<rect x="687.26" y="116.8" width="1" height="67.8" fill="#e8180e" />
<rect x="685.76" y="123.3" width="3.9" height="48.89999999999999" fill="#e8180e" />
<rect x="9.77" y="412.8" width="3.9" height="10.5" fill="#1c5ad2" />
<rect x="15.86" y="409.7" width="3.9" height="13.600000000000023" fill="#e8180e" />
<rect x="21.95" y="401.5" width="3.9" height="21.80000000000001" fill="#e8180e" />
<rect x="28.04" y="411.8" width="3.9" height="11.5" fill="#1c5ad2" />
<rect x="34.129999999999995" y="409.3" width="3.9" height="14.0" fill="#e8180e" />
<rect x="40.22" y="412.8" width="3.9" height="10.5" fill="#1c5ad2" />
<rect x="46.31" y="408.7" width="3.9" height="14.600000000000023" fill="#e8180e" />
<rect x="52.39999999999999" y="396.4" width="3.9" height="26.900000000000034" fill="#e8180e" />
<rect x="58.489999999999995" y="409.7" width="3.9" height="13.600000000000023" fill="#1c5ad2" />
<rect x="64.58" y="407.7" width="3.9" height="15.600000000000023" fill="#e8180e" />
<rect x="70.67" y="410.1" width="3.9" height="13.199999999999989" fill="#1c5ad2" />
<rect x="76.75999999999999" y="400" width="3.9" height="23.30000000000001" fill="#e8180e" />
<rect x="82.85" y="401.2" width="3.9" height="22.100000000000023" fill="#1c5ad2" />
<rect x="88.94" y="407.3" width="3.9" height="16.0" fill="#1c5ad2" />
<rect x="95.02999999999999" y="408.1" width="3.9" height="15.199999999999989" fill="#1c5ad2" />
<rect x="101.11999999999999" y="409.8" width="3.9" height="13.5" fill="#1c5ad2" />
<rect x="107.21" y="405.3" width="3.9" height="18.0" fill="#e8180e" />
<rect x="113.3" y="410.8" width="3.9" height="12.5" fill="#1c5ad2" />
<rect x="119.39" y="408.3" width="3.9" height="15.0" fill="#e8180e" />
<rect x="125.47999999999999" y="399.5" width="3.9" height="23.80000000000001" fill="#e8180e" />
<rect x="131.57" y="411.8" width="3.9" height="11.5" fill="#1c5ad2" />
<rect x="137.66" y="409.4" width="3.9" height="13.900000000000034" fill="#e8180e" />
<rect x="143.75" y="406.7" width="3.9" height="16.600000000000023" fill="#e8180e" />
<rect x="149.84" y="405.7" width="3.9" height="17.600000000000023" fill="#e8180e" />
<rect x="155.93" y="362" width="3.9" height="61.30000000000001" fill="#e8180e" />
<rect x="162.02" y="403.2" width="3.9" height="20.100000000000023" fill="#1c5ad2" />
<rect x="168.11" y="401.2" width="3.9" height="22.100000000000023" fill="#e8180e" />
<rect x="174.20000000000002" y="409.8" width="3.9" height="13.5" fill="#1c5ad2" />
<rect x="180.29" y="411.8" width="3.9" height="11.5" fill="#1c5ad2" />
<rect x="186.38" y="410.2" width="3.9" height="13.100000000000023" fill="#e8180e" />
<rect x="192.47" y="414.3" width="3.9" height="9.0" fill="#1c5ad2" />
<rect x="198.56" y="413.9" width="3.9" height="9.400000000000034" fill="#e8180e" />
<rect x="204.65" y="410.2" width="3.9" height="13.100000000000023" fill="#e8180e" />
<rect x="210.74" y="409.8" width="3.9" height="13.5" fill="#e8180e" />
<rect x="216.83" y="412.2" width="3.9" height="11.100000000000023" fill="#1c5ad2" />
<rect x="222.92000000000002" y="413.5" width="3.9" height="9.800000000000011" fill="#1c5ad2" />
<rect x="229.01000000000002" y="415.7" width="3.9" height="7.600000000000023" fill="#1c5ad2" />
<rect x="235.1" y="409.8" width="3.9" height="13.5" fill="#e8180e" />
<rect x="241.19" y="397.5" width="3.9" height="25.80000000000001" fill="#e8180e" />
<rect x="247.28" y="409.4" width="3.9" height="13.900000000000034" fill="#1c5ad2" />
<rect x="253.37" y="412.8" width="3.9" height="10.5" fill="#1c5ad2" />
<rect x="259.46" y="379.6" width="3.9" height="43.69999999999999" fill="#e8180e" />
<rect x="265.55" y="394" width="3.9" height="29.30000000000001" fill="#1c5ad2" />
<rect x="271.64" y="389.7" width="3.9" height="33.60000000000002" fill="#e8180e" />
<rect x="277.72999999999996" y="412.8" width="3.9" height="10.5" fill="#1c5ad2" />
<rect x="283.82" y="397" width="3.9" height="26.30000000000001" fill="#e8180e" />
<rect x="289.90999999999997" y="412.8" width="3.9" height="10.5" fill="#1c5ad2" />
<rect x="296.0" y="408.7" width="3.9" height="14.600000000000023" fill="#e8180e" />
<rect x="302.09" y="413.5" width="3.9" height="9.800000000000011" fill="#1c5ad2" />
<rect x="308.17999999999995" y="394" width="3.9" height="29.30000000000001" fill="#e8180e" />
<rect x="314.27" y="408.7" width="3.9" height="14.600000000000023" fill="#1c5ad2" />
<rect x="320.35999999999996" y="406.7" width="3.9" height="16.600000000000023" fill="#e8180e" />
<rect x="326.45" y="390.9" width="3.9" height="32.400000000000034" fill="#e8180e" />
<rect x="332.53999999999996" y="410.2" width="3.9" height="13.100000000000023" fill="#1c5ad2" />
<rect x="338.63" y="414.9" width="3.9" height="8.400000000000034" fill="#1c5ad2" />
<rect x="344.71999999999997" y="409.8" width="3.9" height="13.5" fill="#e8180e" />
<rect x="350.80999999999995" y="410.2" width="3.9" height="13.100000000000023" fill="#1c5ad2" />
<rect x="356.9" y="387.8" width="3.9" height="35.5" fill="#e8180e" />
<rect x="362.98999999999995" y="402.6" width="3.9" height="20.69999999999999" fill="#1c5ad2" />
<rect x="369.08" y="413.5" width="3.9" height="9.800000000000011" fill="#1c5ad2" />
<rect x="375.16999999999996" y="407.3" width="3.9" height="16.0" fill="#e8180e" />
<rect x="381.26" y="406.5" width="3.9" height="16.80000000000001" fill="#e8180e" />
<rect x="387.34999999999997" y="411.8" width="3.9" height="11.5" fill="#1c5ad2" />
<rect x="393.44" y="398.9" width="3.9" height="24.400000000000034" fill="#e8180e" />
<rect x="399.53" y="410.8" width="3.9" height="12.5" fill="#1c5ad2" />
<rect x="405.61999999999995" y="412.8" width="3.9" height="10.5" fill="#1c5ad2" />
<rect x="411.71" y="408.7" width="3.9" height="14.600000000000023" fill="#e8180e" />
<rect x="417.79999999999995" y="402.6" width="3.9" height="20.69999999999999" fill="#e8180e" />
<rect x="423.89" y="409.4" width="3.9" height="13.900000000000034" fill="#1c5ad2" />
<rect x="429.97999999999996" y="416.5" width="3.9" height="6.800000000000011" fill="#1c5ad2" />
<rect x="436.07" y="411.8" width="3.9" height="11.5" fill="#e8180e" />
<rect x="442.15999999999997" y="414.9" width="3.9" height="8.400000000000034" fill="#1c5ad2" />
<rect x="448.25" y="415.5" width="3.9" height="7.800000000000011" fill="#1c5ad2" />
<rect x="454.34" y="417" width="3.9" height="6.300000000000011" fill="#1c5ad2" />
<rect x="460.42999999999995" y="410.2" width="3.9" height="13.100000000000023" fill="#e8180e" />
<rect x="466.52" y="413.5" width="3.9" height="9.800000000000011" fill="#1c5ad2" />
<rect x="472.60999999999996" y="411.8" width="3.9" height="11.5" fill="#e8180e" />
<rect x="478.7" y="413.9" width="3.9" height="9.400000000000034" fill="#1c5ad2" />
<rect x="484.78999999999996" y="403.2" width="3.9" height="20.100000000000023" fill="#e8180e" />
<rect x="490.88" y="417" width="3.9" height="6.300000000000011" fill="#1c5ad2" />
<rect x="496.96999999999997" y="416.3" width="3.9" height="7.0" fill="#e8180e" />
<rect x="503.05999999999995" y="418.6" width="3.9" height="4.699999999999989" fill="#1c5ad2" />
<rect x="509.15" y="418" width="3.9" height="5.300000000000011" fill="#e8180e" />
<rect x="515.24" y="410.2" width="3.9" height="13.100000000000023" fill="#e8180e" />
<rect x="521.33" y="413.5" width="3.9" height="9.800000000000011" fill="#1c5ad2" />
<rect x="527.42" y="414.1" width="3.9" height="9.199999999999989" fill="#1c5ad2" />
<rect x="533.51" y="411.8" width="3.9" height="11.5" fill="#e8180e" />
<rect x="539.6" y="417" width="3.9" height="6.300000000000011" fill="#1c5ad2" />
<rect x="545.6899999999999" y="412.8" width="3.9" height="10.5" fill="#e8180e" />
<rect x="551.78" y="416.3" width="3.9" height="7.0" fill="#1c5ad2" />
<rect x="557.87" y="414.9" width="3.9" height="8.400000000000034" fill="#e8180e" />
<rect x="563.9599999999999" y="416.3" width="3.9" height="7.0" fill="#1c5ad2" />
<rect x="570.05" y="416.3" width="3.9" height="7.0" fill="#1c5ad2" />
<rect x="576.14" y="416.5" width="3.9" height="6.800000000000011" fill="#1c5ad2" />
<rect x="582.23" y="395" width="3.9" height="28.30000000000001" fill="#e8180e" />
<rect x="588.3199999999999" y="416.5" width="3.9" height="6.800000000000011" fill="#1c5ad2" />
<rect x="594.41" y="416.5" width="3.9" height="6.800000000000011" fill="#1c5ad2" />
<rect x="600.5" y="402.6" width="3.9" height="20.69999999999999" fill="#e8180e" />
<rect x="606.5899999999999" y="405.7" width="3.9" height="17.600000000000023" fill="#1c5ad2" />
<rect x="612.68" y="414.3" width="3.9" height="9.0" fill="#1c5ad2" />
<rect x="618.77" y="415.9" width="3.9" height="7.400000000000034" fill="#1c5ad2" />
<rect x="624.86" y="381" width="3.9" height="42.30000000000001" fill="#e8180e" />
<rect x="630.9499999999999" y="397" width="3.9" height="26.30000000000001" fill="#1c5ad2" />
<rect x="637.04" y="408.7" width="3.9" height="14.600000000000023" fill="#1c5ad2" />
<rect x="643.13" y="398.9" width="3.9" height="24.400000000000034" fill="#e8180e" />
<rect x="649.2199999999999" y="396" width="3.9" height="27.30000000000001" fill="#e8180e" />
<rect x="655.31" y="388.9" width="3.9" height="34.400000000000034" fill="#e8180e" />
<rect x="661.4" y="398.1" width="3.9" height="25.19999999999999" fill="#1c5ad2" />
<rect x="667.49" y="397" width="3.9" height="26.30000000000001" fill="#e8180e" />
<rect x="673.5799999999999" y="405.7" width="3.9" height="17.600000000000023" fill="#1c5ad2" />
<rect x="679.67" y="406.7" width="3.9" height="16.600000000000023" fill="#1c5ad2" />
<rect x="685.76" y="330" width="3.9" height="93.30000000000001" fill="#e8180e" />
<polyline points="11.9,391.2 39.0,391.6 101.0,392.7 120.0,393.7 158.8,394.3 184.0,395.1 221.0,395.7 228.7,396.6 270.0,397.0 303.8,396.6 342.6,397.2 362.0,398.6 385.3,399.6 415.0,400.1 448.8,401.5 483.7,402.1 518.7,404.4 545.8,406.0 560.0,406.0 574.4,406.2 613.2,407.2 652.0,407.2 687.0,406.8" fill="none" stroke="#8a8a8a" stroke-width="0.9" stroke-linejoin="round" />
<polyline points="11.9,391.6 23.5,393.7 54.6,394.8 77.9,396.3 101.0,398.3 120.0,399.2 158.8,400.1 184.0,402.5 221.0,404.4 246.0,405.4 270.0,405.4 303.8,405.4 342.6,405.4 381.4,406.0 415.0,406.3 448.8,406.7 483.7,407.3 516.7,407.9 522.6,409.3 560.0,409.3 574.4,410.1 582.2,409.1 613.2,409.1 652.0,408.7 687.0,407.2" fill="none" stroke="#2aa84a" stroke-width="0.9" stroke-linejoin="round" />
<polyline points="11.8,399.6 17.9,400.4 23.9,401.1 30.0,401.7 36.1,403.4 42.2,404.9 48.3,406.2 54.4,406.8 60.5,407.0 66.6,407.0 72.7,407.0 78.8,407.0 84.8,407.0 90.9,407.0 97.0,407.0 103.1,407.0 109.2,407.0 115.3,407.0 121.4,407.0 127.5,407.0 133.6,407.0 139.7,407.0 145.8,407.2 151.8,406.9 157.9,404.6 164.0,404.1 170.1,403.7 176.2,404.4 182.3,404.5 188.4,404.6 194.5,404.8 200.6,405.5 206.7,406.0 212.7,406.1 218.8,406.3 224.9,406.5 231.0,407.0 237.1,406.9 243.2,406.4 249.3,406.9 255.4,407.0 261.5,405.5 267.6,404.8 273.6,404.0 279.7,406.6 285.8,406.3 291.9,406.8 298.0,406.8 304.1,406.9 310.2,406.1 316.3,405.8 322.4,405.4 328.4,404.5 334.5,404.5 340.6,404.6 346.7,404.4 352.8,404.1 358.9,403.1 365.0,403.3 371.1,403.5 377.2,403.2 383.3,404.6 389.3,405.5 395.4,405.9 401.5,405.8 407.6,406.6 413.7,406.4 419.8,406.1 425.9,405.9 432.0,407.0 438.1,407.2 444.2,407.6 450.2,408.8 456.3,409.2 462.4,408.9 468.5,409.1 474.6,409.2 480.7,410.5 486.8,410.5 492.9,410.7 499.0,411.2 505.1,411.8 511.1,412.1 517.2,412.6 523.3,412.8 529.4,412.8 535.5,413.0 541.6,413.7 547.7,413.9 553.8,413.9 559.9,414.0 566.0,414.1 572.0,414.1 578.1,414.1 584.2,413.3 590.3,413.5 596.4,413.7 602.5,413.2 608.6,413.3 614.7,413.2 620.8,413.1 626.9,411.3 632.9,410.2 639.0,410.1 645.1,409.4 651.2,408.5 657.3,407.4 663.4,406.4 669.5,405.6 675.6,405.1 681.7,404.7 687.8,400.4" fill="none" stroke="#f0aa2a" stroke-width="0.9" stroke-linejoin="round" />
<polyline points="11.8,409.5 17.9,409.5 23.9,407.6 30.0,408.8 36.1,409.0 42.2,409.0 48.3,408.8 54.4,407.8 60.5,407.4 66.6,407.1 72.7,406.5 78.8,404.8 84.8,405.7 90.9,405.3 97.0,405.3 103.1,405.3 109.2,406.3 115.3,408.3 121.4,408.5 127.5,406.7 133.6,407.1 139.7,408.0 145.8,407.1 151.8,406.6 157.9,399.1 164.0,397.4 170.1,395.8 176.2,396.4 182.3,397.6 188.4,407.2 194.5,409.5 200.6,412.0 206.7,412.1 212.7,411.7 218.8,412.1 224.9,411.9 231.0,412.3 237.1,412.2 243.2,409.7 249.3,409.2 255.4,409.0 261.5,401.8 267.6,398.7 273.6,397.1 279.7,397.8 285.8,394.6 291.9,401.3 298.0,404.2 304.1,409.0 310.2,405.2 316.3,407.5 322.4,406.3 328.4,402.8 334.5,402.1 340.6,406.3 346.7,406.5 352.8,407.2 358.9,406.6 365.0,405.1 371.1,404.8 377.2,404.3 383.3,403.5 389.3,408.3 395.4,407.6 401.5,407.1 407.6,408.2 413.7,408.6 419.8,406.8 425.9,408.9 432.0,410.0 438.1,409.8 444.2,411.0 450.2,413.6 456.3,415.1 462.4,413.9 468.5,414.2 474.6,413.6 480.7,413.3 486.8,410.5 492.9,411.9 499.0,412.4 505.1,413.8 511.1,414.6 517.2,416.0 523.3,415.3 529.4,414.9 535.5,413.5 541.6,413.3 547.7,413.8 553.8,414.4 559.9,414.6 566.0,415.5 572.0,415.3 578.1,416.1 584.2,411.8 590.3,412.1 596.4,412.2 602.5,409.4 608.6,407.3 614.7,411.1 620.8,411.0 626.9,403.9 632.9,402.8 639.0,403.4 645.1,400.3 651.2,396.3 657.3,397.9 663.4,398.1 669.5,395.8 675.6,397.1 681.7,399.3 687.8,387.5" fill="none" stroke="#e020d0" stroke-width="0.9" stroke-linejoin="round" />
<line x1="8.5" y1="318.5" x2="715.5" y2="318.5" stroke="#8c8c8c" stroke-width="1" />
<line x1="8.5" y1="424.5" x2="765" y2="424.5" stroke="#8c8c8c" stroke-width="1" />
<line x1="715.5" y1="62" x2="715.5" y2="438" stroke="#8a9098" stroke-width="1" />
<line x1="715.5" y1="318.5" x2="765" y2="318.5" stroke="#a0a0a0" stroke-width="1" />
<line x1="8.5" y1="62" x2="8.5" y2="438" stroke="#a0a0a0" stroke-width="1" />
<line x1="765.5" y1="62" x2="765.5" y2="438" stroke="#a0a0a0" stroke-width="1" />
<line x1="8.5" y1="62.5" x2="765.5" y2="62.5" stroke="#b4b4b4" stroke-width="1" />
<rect x="11.8" y="66.6" width="3.6" height="3.6" fill="#c8c8c8" stroke="#8a8a8a" stroke-width="0.8" />
<rect x="18.4" y="63.2" width="137.6" height="10.2" fill="#e6e6e6" stroke="#b0b0b0" stroke-width="0.7" />
<text x="20.6" y="72.6" font-size="10.5" fill="#333" text-anchor="start" font-weight="normal" textLength="134" lengthAdjust="spacingAndGlyphs" >피에스케이홀딩스 매물대 수(10)</text>
<rect x="161.3" y="66.6" width="3.6" height="3.6" fill="#c8c8c8" stroke="#8a8a8a" stroke-width="0.8" />
<text x="169.6" y="72.3" font-size="11" fill="#e020c8" text-anchor="start" font-weight="normal" textLength="48" lengthAdjust="spacingAndGlyphs" >종가 단순 5</text>
<text x="225" y="72.3" font-size="11" fill="#2040d0" text-anchor="start" font-weight="normal" textLength="8.5" lengthAdjust="spacingAndGlyphs" >10</text>
<text x="239.5" y="72.3" font-size="11" fill="#f0a020" text-anchor="start" font-weight="normal" textLength="9" lengthAdjust="spacingAndGlyphs" >20</text>
<text x="254" y="72.3" font-size="11" fill="#20a040" text-anchor="start" font-weight="normal" textLength="10.5" lengthAdjust="spacingAndGlyphs" >60</text>
<text x="269.6" y="72.3" font-size="11" fill="#888" text-anchor="start" font-weight="normal" textLength="15" lengthAdjust="spacingAndGlyphs" >240</text>
<rect x="288" y="66.6" width="3.6" height="3.6" fill="#c8c8c8" stroke="#8a8a8a" stroke-width="0.8" />
<text x="296.7" y="72.3" font-size="11" fill="#333" text-anchor="start" font-weight="normal" textLength="66" lengthAdjust="spacingAndGlyphs" >1000억 강세패턴</text>
<rect x="13.8" y="78" width="9.4" height="9.3" fill="#fff" stroke="#333" stroke-width="1" />
<path d="M16.4 78.5 v8.5 M18.6 78.5 v8.5 M20.8 78.5 v8.5 M14 80.6 h9" stroke="#777" stroke-width="0.7"/>
<line x1="715.5" y1="305.808" x2="720.8" y2="305.808" stroke="#777" stroke-width="1" />
<text x="721.8" y="309.508" font-size="10.5" fill="#555" text-anchor="start" font-weight="normal" textLength="26" lengthAdjust="spacingAndGlyphs" >30,000</text>
<line x1="715.5" y1="280.432" x2="720.8" y2="280.432" stroke="#777" stroke-width="1" />
<text x="721.8" y="284.132" font-size="10.5" fill="#555" text-anchor="start" font-weight="normal" textLength="26" lengthAdjust="spacingAndGlyphs" >32,000</text>
<line x1="715.5" y1="255.05599999999998" x2="720.8" y2="255.05599999999998" stroke="#777" stroke-width="1" />
<text x="721.8" y="258.756" font-size="10.5" fill="#555" text-anchor="start" font-weight="normal" textLength="26" lengthAdjust="spacingAndGlyphs" >34,000</text>
<line x1="715.5" y1="229.68" x2="720.8" y2="229.68" stroke="#777" stroke-width="1" />
<text x="721.8" y="233.38" font-size="10.5" fill="#555" text-anchor="start" font-weight="normal" textLength="26" lengthAdjust="spacingAndGlyphs" >36,000</text>
<line x1="715.5" y1="204.30399999999997" x2="720.8" y2="204.30399999999997" stroke="#777" stroke-width="1" />
<text x="721.8" y="208.00399999999996" font-size="10.5" fill="#555" text-anchor="start" font-weight="normal" textLength="26" lengthAdjust="spacingAndGlyphs" >38,000</text>
<line x1="715.5" y1="178.928" x2="720.8" y2="178.928" stroke="#777" stroke-width="1" />
<text x="721.8" y="182.628" font-size="10.5" fill="#555" text-anchor="start" font-weight="normal" textLength="26" lengthAdjust="spacingAndGlyphs" >40,000</text>
<line x1="715.5" y1="153.552" x2="720.8" y2="153.552" stroke="#777" stroke-width="1" />
<text x="721.8" y="157.25199999999998" font-size="10.5" fill="#555" text-anchor="start" font-weight="normal" textLength="26" lengthAdjust="spacingAndGlyphs" >42,000</text>
<line x1="715.5" y1="128.176" x2="720.8" y2="128.176" stroke="#777" stroke-width="1" />
<line x1="715.5" y1="102.8" x2="720.8" y2="102.8" stroke="#777" stroke-width="1" />
<text x="721.8" y="106.5" font-size="10.5" fill="#555" text-anchor="start" font-weight="normal" textLength="26" lengthAdjust="spacingAndGlyphs" >46,000</text>
<line x1="715.5" y1="315.9584" x2="718" y2="315.9584" stroke="#888" stroke-width="0.9" />
<line x1="715.5" y1="310.8832" x2="718" y2="310.8832" stroke="#888" stroke-width="0.9" />
<line x1="715.5" y1="300.7328" x2="718" y2="300.7328" stroke="#888" stroke-width="0.9" />
<line x1="715.5" y1="295.6576" x2="718" y2="295.6576" stroke="#888" stroke-width="0.9" />
<line x1="715.5" y1="290.5824" x2="718" y2="290.5824" stroke="#888" stroke-width="0.9" />
<line x1="715.5" y1="285.5072" x2="718" y2="285.5072" stroke="#888" stroke-width="0.9" />
<line x1="715.5" y1="275.35679999999996" x2="718" y2="275.35679999999996" stroke="#888" stroke-width="0.9" />
<line x1="715.5" y1="270.28159999999997" x2="718" y2="270.28159999999997" stroke="#888" stroke-width="0.9" />
<line x1="715.5" y1="265.2064" x2="718" y2="265.2064" stroke="#888" stroke-width="0.9" />
<line x1="715.5" y1="260.1312" x2="718" y2="260.1312" stroke="#888" stroke-width="0.9" />
<line x1="715.5" y1="249.9808" x2="718" y2="249.9808" stroke="#888" stroke-width="0.9" />
<line x1="715.5" y1="244.9056" x2="718" y2="244.9056" stroke="#888" stroke-width="0.9" />
<line x1="715.5" y1="239.8304" x2="718" y2="239.8304" stroke="#888" stroke-width="0.9" />
<line x1="715.5" y1="234.7552" x2="718" y2="234.7552" stroke="#888" stroke-width="0.9" />
<line x1="715.5" y1="224.6048" x2="718" y2="224.6048" stroke="#888" stroke-width="0.9" />
<line x1="715.5" y1="219.5296" x2="718" y2="219.5296" stroke="#888" stroke-width="0.9" />
<line x1="715.5" y1="214.4544" x2="718" y2="214.4544" stroke="#888" stroke-width="0.9" />
<line x1="715.5" y1="209.3792" x2="718" y2="209.3792" stroke="#888" stroke-width="0.9" />
<line x1="715.5" y1="199.22879999999998" x2="718" y2="199.22879999999998" stroke="#888" stroke-width="0.9" />
<line x1="715.5" y1="194.15359999999998" x2="718" y2="194.15359999999998" stroke="#888" stroke-width="0.9" />
<line x1="715.5" y1="189.0784" x2="718" y2="189.0784" stroke="#888" stroke-width="0.9" />
<line x1="715.5" y1="184.0032" x2="718" y2="184.0032" stroke="#888" stroke-width="0.9" />
<line x1="715.5" y1="173.8528" x2="718" y2="173.8528" stroke="#888" stroke-width="0.9" />
<line x1="715.5" y1="168.7776" x2="718" y2="168.7776" stroke="#888" stroke-width="0.9" />
<line x1="715.5" y1="163.7024" x2="718" y2="163.7024" stroke="#888" stroke-width="0.9" />
<line x1="715.5" y1="158.6272" x2="718" y2="158.6272" stroke="#888" stroke-width="0.9" />
<line x1="715.5" y1="148.4768" x2="718" y2="148.4768" stroke="#888" stroke-width="0.9" />
<line x1="715.5" y1="143.4016" x2="718" y2="143.4016" stroke="#888" stroke-width="0.9" />
<line x1="715.5" y1="138.3264" x2="718" y2="138.3264" stroke="#888" stroke-width="0.9" />
<line x1="715.5" y1="133.25119999999998" x2="718" y2="133.25119999999998" stroke="#888" stroke-width="0.9" />
<line x1="715.5" y1="123.10079999999999" x2="718" y2="123.10079999999999" stroke="#888" stroke-width="0.9" />
<line x1="715.5" y1="118.0256" x2="718" y2="118.0256" stroke="#888" stroke-width="0.9" />
<line x1="715.5" y1="112.9504" x2="718" y2="112.9504" stroke="#888" stroke-width="0.9" />
<line x1="715.5" y1="107.87519999999999" x2="718" y2="107.87519999999999" stroke="#888" stroke-width="0.9" />
<line x1="715.5" y1="97.7248" x2="718" y2="97.7248" stroke="#888" stroke-width="0.9" />
<line x1="715.5" y1="92.64959999999999" x2="718" y2="92.64959999999999" stroke="#888" stroke-width="0.9" />
<line x1="715.5" y1="87.5744" x2="718" y2="87.5744" stroke="#888" stroke-width="0.9" />
<line x1="715.5" y1="82.4992" x2="718" y2="82.4992" stroke="#888" stroke-width="0.9" />
<line x1="715.5" y1="72.3488" x2="718" y2="72.3488" stroke="#888" stroke-width="0.9" />
<line x1="715.5" y1="67.27359999999999" x2="718" y2="67.27359999999999" stroke="#888" stroke-width="0.9" />
<text x="716.8" y="71.8" font-size="10.5" fill="#e02020" text-anchor="start" font-weight="normal" textLength="36" lengthAdjust="spacingAndGlyphs" >LC:46,85</text>
<text x="716.8" y="81" font-size="10.5" fill="#2050d0" text-anchor="start" font-weight="normal" textLength="36" lengthAdjust="spacingAndGlyphs" >HC:-1,22</text>
<text x="721" y="135.5" font-size="11" fill="#e02020" text-anchor="start" font-weight="normal" textLength="28" lengthAdjust="spacingAndGlyphs" >11.29%</text>
<rect x="719" y="118.3" width="44.8" height="9.4" fill="#e8180e" />
<text x="720.5" y="127" font-size="11" fill="#fff" text-anchor="start" font-weight="normal" textLength="26" lengthAdjust="spacingAndGlyphs" >44,350</text>
<text x="588.5" y="123.2" font-size="10.5" fill="#e82020" text-anchor="start" font-weight="normal" textLength="81.5" lengthAdjust="spacingAndGlyphs" >최고 44,900 (09/18)</text>
<path d="M674 119.8 h8" stroke="#e82020" stroke-width="1.2"/><path d="M681 116.3 L686.4 119.8 L681 123.3 Z" fill="#e82020"/>
<text x="460.8" y="304" font-size="10.5" fill="#2238d8" text-anchor="start" font-weight="normal" textLength="81.5" lengthAdjust="spacingAndGlyphs" >최저 30,200 (08/20)</text>
<path d="M546 300.5 h8" stroke="#2238d8" stroke-width="1.2"/><path d="M552.5 296.5 L557.5 300.5 L552.5 304.5 Z" fill="#2238d8"/>
<rect x="11.8" y="322.6" width="3.6" height="3.6" fill="#c8c8c8" stroke="#8a8a8a" stroke-width="0.8" />
<text x="20.6" y="328.4" font-size="10.5" fill="#30a0a0" text-anchor="start" font-weight="normal" textLength="25" lengthAdjust="spacingAndGlyphs" >거래량</text>
<text x="54.4" y="328.4" font-size="10.5" fill="#e020c8" text-anchor="start" font-weight="normal" textLength="25.6" lengthAdjust="spacingAndGlyphs" >단순 5</text>
<text x="86.8" y="328.4" font-size="10.5" fill="#f0a020" text-anchor="start" font-weight="normal" textLength="8.8" lengthAdjust="spacingAndGlyphs" >20</text>
<text x="101.5" y="328.4" font-size="10.5" fill="#20a040" text-anchor="start" font-weight="normal" textLength="9.7" lengthAdjust="spacingAndGlyphs" >60</text>
<text x="117.6" y="328.4" font-size="10.5" fill="#888" text-anchor="start" font-weight="normal" textLength="13.9" lengthAdjust="spacingAndGlyphs" >120</text>
<text x="12.4" y="338.7" font-size="10.5" fill="#333" text-anchor="start" font-weight="normal" textLength="81.7" lengthAdjust="spacingAndGlyphs" >998,977주(573.00%)</text>
<text x="714.5" y="328.6" font-size="10.5" fill="#333" text-anchor="end" font-weight="normal" textLength="80" lengthAdjust="spacingAndGlyphs" >998,977주(573.00%)</text>
<text x="721" y="342.4" font-size="10.5" fill="#e02020" text-anchor="start" font-weight="normal" textLength="31" lengthAdjust="spacingAndGlyphs" >573.00%</text>
<rect x="719" y="324" width="44.8" height="9.4" fill="#e8180e" />
<text x="720.5" y="332.6" font-size="10.5" fill="#fff" text-anchor="start" font-weight="normal" textLength="30" lengthAdjust="spacingAndGlyphs" >998,977</text>
<rect x="757.5" y="320.3" width="5.4" height="5.4" fill="#555" />
<path d="M758.7 321.5 l3 3 M761.7 321.5 l-3 3" stroke="#fff" stroke-width="0.8"/>
<line x1="715.5" y1="352.8" x2="720.8" y2="352.8" stroke="#777" stroke-width="1" />
<text x="721.8" y="356.5" font-size="10.5" fill="#555" text-anchor="start" font-weight="normal" textLength="31.5" lengthAdjust="spacingAndGlyphs" >750,000</text>
<line x1="715.5" y1="376.4" x2="720.8" y2="376.4" stroke="#777" stroke-width="1" />
<text x="721.8" y="380.09999999999997" font-size="10.5" fill="#555" text-anchor="start" font-weight="normal" textLength="31.5" lengthAdjust="spacingAndGlyphs" >500,000</text>
<line x1="715.5" y1="399.9" x2="720.8" y2="399.9" stroke="#777" stroke-width="1" />
<text x="721.8" y="403.59999999999997" font-size="10.5" fill="#555" text-anchor="start" font-weight="normal" textLength="31.5" lengthAdjust="spacingAndGlyphs" >250,000</text>
<text x="10.8" y="434.8" font-size="10.5" fill="#606060" text-anchor="start" font-weight="normal" textLength="31.8" lengthAdjust="spacingAndGlyphs" >2025/04</text>
<text x="114.7" y="434.8" font-size="10.5" fill="#606060" text-anchor="start" font-weight="normal" textLength="9.1" lengthAdjust="spacingAndGlyphs" >05</text>
<text x="230.3" y="434.8" font-size="10.5" fill="#606060" text-anchor="start" font-weight="normal" textLength="9.1" lengthAdjust="spacingAndGlyphs" >06</text>
<text x="346" y="434.8" font-size="10.5" fill="#606060" text-anchor="start" font-weight="normal" textLength="9.1" lengthAdjust="spacingAndGlyphs" >07</text>
<text x="486.1" y="434.8" font-size="10.5" fill="#606060" text-anchor="start" font-weight="normal" textLength="9.1" lengthAdjust="spacingAndGlyphs" >08</text>
<text x="606.7" y="434.8" font-size="10.5" fill="#606060" text-anchor="start" font-weight="normal" textLength="9.1" lengthAdjust="spacingAndGlyphs" >09</text>
<text x="722" y="434.8" font-size="10.5" fill="#606060" text-anchor="start" font-weight="normal" textLength="22.8" lengthAdjust="spacingAndGlyphs" >09/18</text>
<line x1="112.8" y1="424.5" x2="112.8" y2="438" stroke="#a0a4aa" stroke-width="1.2" />
<line x1="228.8" y1="424.5" x2="228.8" y2="438" stroke="#a0a4aa" stroke-width="1.2" />
<line x1="344.5" y1="424.5" x2="344.5" y2="438" stroke="#a0a4aa" stroke-width="1.2" />
<line x1="484.6" y1="424.5" x2="484.6" y2="438" stroke="#a0a4aa" stroke-width="1.2" />
<line x1="605.7" y1="424.5" x2="605.7" y2="438" stroke="#a0a4aa" stroke-width="1.2" /></svg></body></html>
